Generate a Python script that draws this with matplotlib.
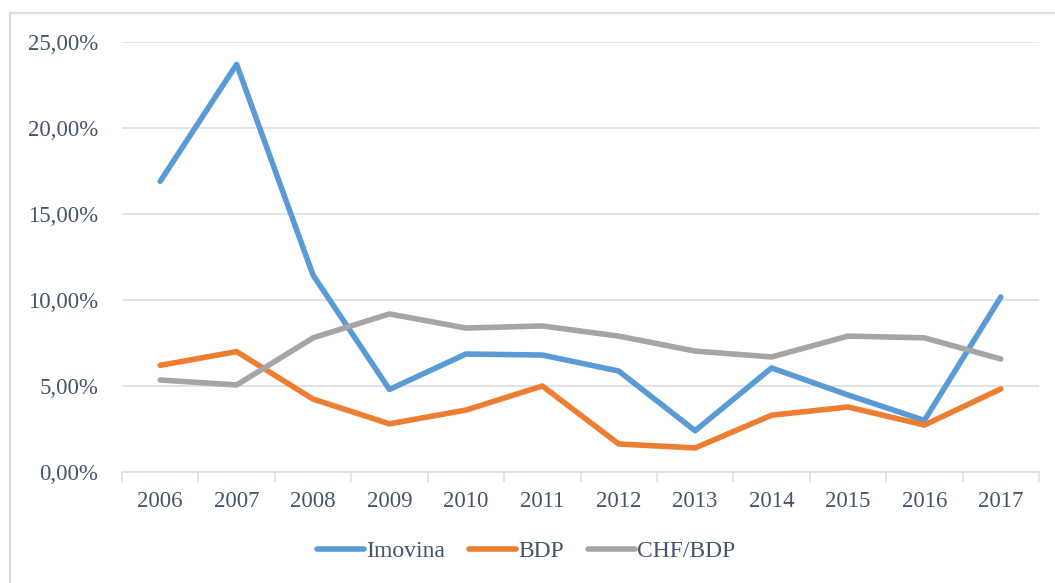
import numpy as np
import matplotlib.pyplot as plt
from matplotlib.patches import Rectangle
from matplotlib.ticker import FuncFormatter

years = ['2006', '2007', '2008', '2009', '2010', '2011',
         '2012', '2013', '2014', '2015', '2016', '2017']
imovina = [16.9, 23.7, 11.45, 4.8, 6.86, 6.8, 5.87, 2.4, 6.05, 4.48, 3.0, 10.17]
bdp = [6.2, 7.0, 4.24, 2.8, 3.6, 5.0, 1.63, 1.4, 3.3, 3.78, 2.73, 4.83]
chf_bdp = [5.35, 5.06, 7.8, 9.19, 8.37, 8.49, 7.9, 7.03, 6.69, 7.9, 7.8, 6.57]

plt.rcParams['font.family'] = ['Liberation Serif', 'DejaVu Serif']
txt = '#44546A'

fig = plt.figure(figsize=(10.55, 5.83), dpi=100)
ax = fig.add_axes([122/1055, 1 - 472/583, 917/1055, 430/583])

# outer chart frame (cut off at right/bottom like the source)
fig.patches.append(Rectangle((10/1055, -0.05), 1.1, 1 - 13/583 + 0.05,
                             transform=fig.transFigure, fill=False,
                             edgecolor='#D9DDE3', lw=1.5))

x = np.arange(len(years))
ax.plot(x, imovina, color='#5B9BD5', lw=4, solid_capstyle='round',
        solid_joinstyle='round', label='Imovina')
ax.plot(x, bdp, color='#ED7D31', lw=4, solid_capstyle='round',
        solid_joinstyle='round', label='BDP')
ax.plot(x, chf_bdp, color='#A5A5A5', lw=4, solid_capstyle='round',
        solid_joinstyle='round', label='CHF/BDP')

ax.set_xlim(-0.5, len(years) - 0.5)
ax.set_ylim(0, 25)
ax.set_yticks(np.arange(0, 26, 5))
ax.yaxis.set_major_formatter(FuncFormatter(lambda v, p: f'{v:.2f}%'.replace('.', ',')))
ax.grid(axis='y', color='#DDE1E7', lw=1.3)
ax.set_axisbelow(True)

ax.set_xticks(x)
ax.set_xticklabels(years)
ax.set_xticks(np.arange(-0.5, len(years)), minor=True)
ax.tick_params(axis='x', which='major', length=0, pad=14, labelsize=16.5, labelcolor=txt)
ax.tick_params(axis='x', which='minor', length=7, color='#DDE1E7', width=1.3)
ax.tick_params(axis='y', length=0, pad=17, labelsize=16.5, labelcolor=txt)

for s in ['top', 'right', 'left']:
    ax.spines[s].set_visible(False)
ax.spines['bottom'].set_color('#DDE1E7')
ax.spines['bottom'].set_linewidth(1.3)

leg = fig.legend(loc='center', bbox_to_anchor=(526/1055, 1 - 551/583), ncol=3,
                 frameon=False, fontsize=17, handlelength=2.0, handletextpad=0.1,
                 columnspacing=1.0)
for t in leg.get_texts():
    t.set_color(txt)

fig.savefig('out.png', dpi=100)
